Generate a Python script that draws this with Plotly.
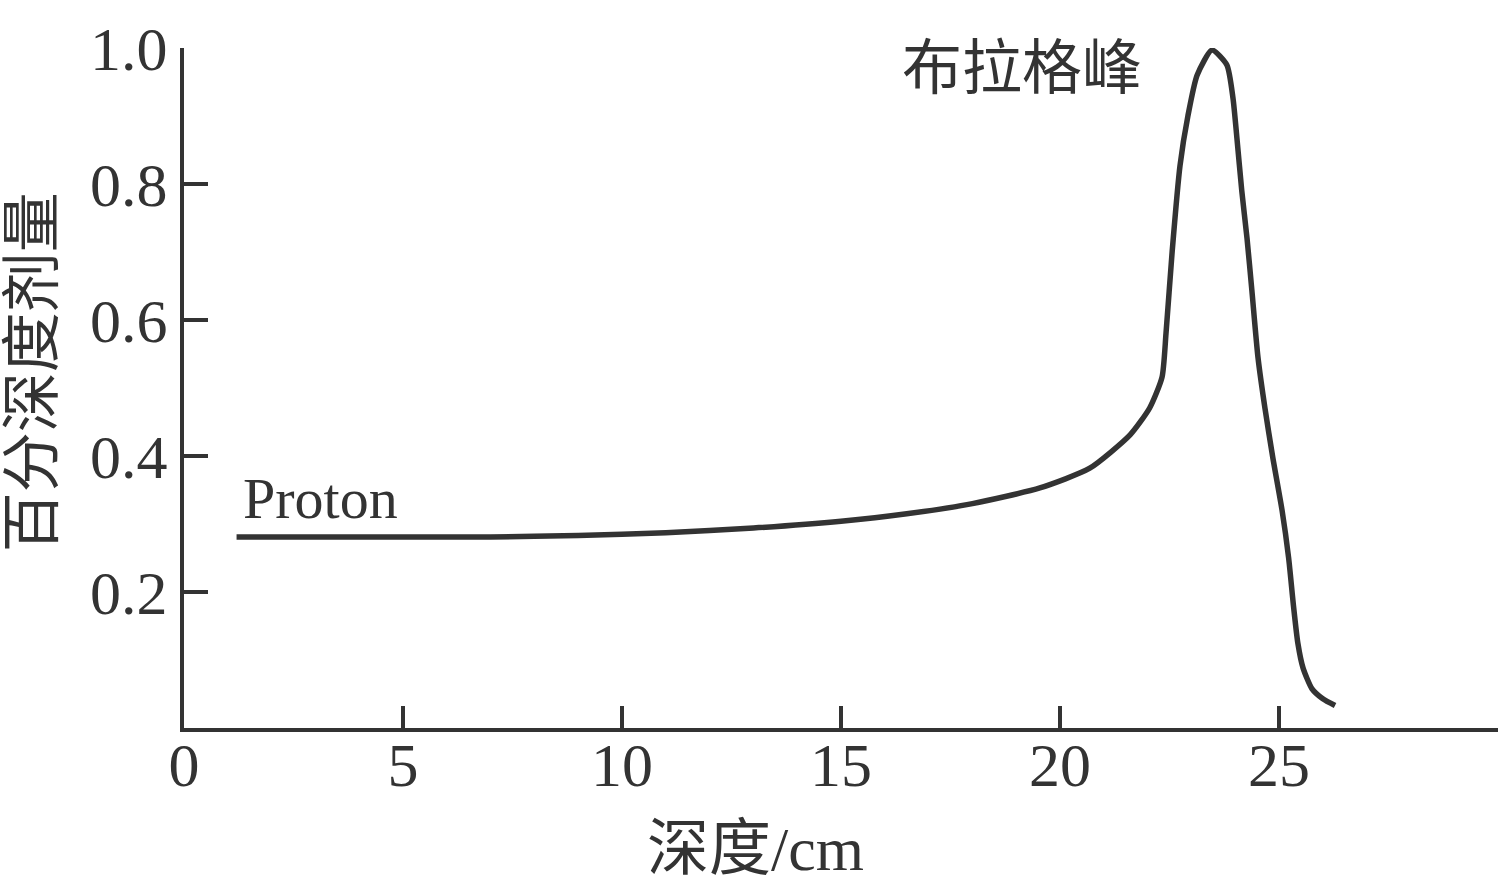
import plotly.graph_objects as go

depth = [1.2, 3, 5, 7, 9, 11, 13, 15, 16.5, 18, 19.54, 20.68, 21.6, 22.05, 22.33, 22.42, 22.56,
         22.74, 22.92, 23.13, 23.47, 23.81, 23.95, 24.04, 24.15, 24.27, 24.38, 24.52, 24.68, 24.86,
         25.07, 25.22, 25.33, 25.43, 25.55, 25.75, 26.0, 26.28]
dose = [0.281, 0.281, 0.281, 0.281, 0.283, 0.287, 0.294, 0.304, 0.315, 0.330, 0.353, 0.382, 0.431,
        0.471, 0.516, 0.58, 0.70, 0.827, 0.90, 0.96, 0.997, 0.975, 0.926, 0.867, 0.79, 0.72, 0.644,
        0.545, 0.47, 0.397, 0.32, 0.25, 0.18, 0.125, 0.088, 0.058, 0.043, 0.033]

x_ticks = [0, 5, 10, 15, 20, 25, 30]
x_ticktext = ["0", "5", "10", "15", "20", "25", ""]
y_ticks = [0.2, 0.4, 0.6, 0.8, 1.0]
y_ticktext = ["0.2", "0.4", "0.6", "0.8", "1.0"]

FONT = "Liberation Serif, Noto Sans CJK SC, serif"
C = "#333333"

fig = go.Figure()
fig.add_trace(go.Scatter(x=depth, y=dose, mode="lines",
                         line=dict(color=C, width=5.5, shape="spline", smoothing=0.6),
                         showlegend=False, hoverinfo="skip"))

fig.add_annotation(x=1.3, y=0.338, text="Proton", showarrow=False, xanchor="left", yanchor="middle",
                   font=dict(family=FONT, size=58, color=C))
fig.add_annotation(x=19.13, y=0.969, text="布拉格峰", showarrow=False, xanchor="center", yanchor="middle",
                   font=dict(family=FONT, size=60, color=C))
fig.add_annotation(x=13.04, xref="x", y=0, yref="paper", yshift=-121, text="深度/cm", showarrow=False,
                   xanchor="center", yanchor="middle", font=dict(family=FONT, size=62, color=C))
fig.add_annotation(x=0, xref="paper", xshift=-151, y=0.523, yref="y", text="百分深度剂量", showarrow=False,
                   textangle=-90, xanchor="center", yanchor="middle", font=dict(family=FONT, size=60, color=C))

fig.update_layout(
    width=1500, height=884,
    margin=dict(l=184, r=2, t=48, b=156),
    paper_bgcolor="white", plot_bgcolor="white",
    font=dict(family=FONT, color=C),
    xaxis=dict(range=[0, 30], tickvals=x_ticks, ticktext=x_ticktext, ticks="inside", ticklen=22,
               tickwidth=4, tickcolor=C, showline=True, linewidth=4, linecolor=C, showgrid=False,
               zeroline=False, tickfont=dict(family=FONT, size=62, color=C), automargin=False,
               ticklabelstandoff=-20),
    yaxis=dict(range=[0, 1.0], tickvals=y_ticks, ticktext=y_ticktext, ticks="inside", ticklen=24,
               tickwidth=4, tickcolor=C, showline=True, linewidth=4, linecolor=C, showgrid=False,
               zeroline=False, tickfont=dict(family=FONT, size=62, color=C), automargin=False),
)

fig.write_html("out.html", config={"displayModeBar": False},
               post_script="document.body.style.margin='0';document.body.style.overflow='hidden';")
